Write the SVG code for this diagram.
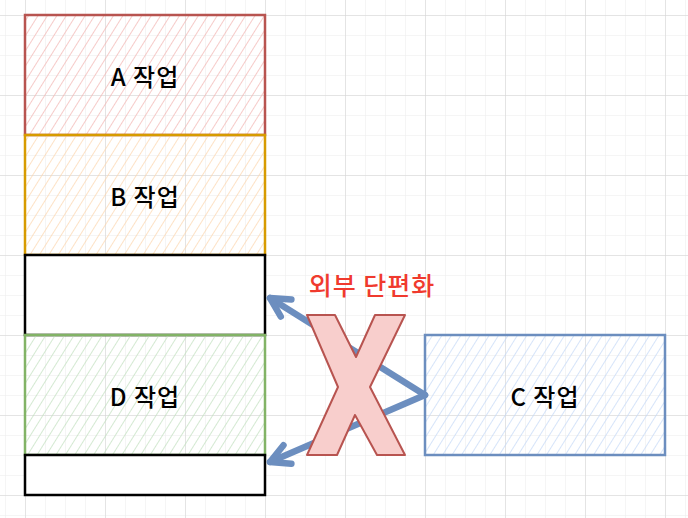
<svg xmlns="http://www.w3.org/2000/svg" width="688" height="518" viewBox="0 0 688 518">
<style>
.lbl{font-family:"Noto Sans CJK KR","Noto Sans",sans-serif;font-size:24px;font-weight:500;fill:#000;text-anchor:middle;letter-spacing:1px}
.box{stroke-width:2.5}
.conn{stroke:#6c8ebf;stroke-width:6.5;fill:none;stroke-linecap:round}
</style>
<defs>
<pattern id="gridMinor" patternUnits="userSpaceOnUse" x="5" y="15" width="20" height="20">
<path d="M0,0 H20 M0,0 V20" stroke="#ebebeb" stroke-width="1" fill="none"/>
</pattern>
<pattern id="gridMajor" patternUnits="userSpaceOnUse" x="25" y="15" width="80" height="80">
<path d="M0,0 H80 M0,0 V80" stroke="#d3d3d3" stroke-width="1" fill="none"/>
</pattern>
<pattern id="hRed" patternUnits="userSpaceOnUse" width="8" height="8" patternTransform="rotate(32)">
<line x1="0" y1="0" x2="0" y2="8" stroke="#f2b5b2" stroke-width="1.4"/>
</pattern>
<pattern id="hOrange" patternUnits="userSpaceOnUse" width="8" height="8" patternTransform="rotate(32)">
<line x1="0" y1="0" x2="0" y2="8" stroke="#fcd5ad" stroke-width="1.4"/>
</pattern>
<pattern id="hGreen" patternUnits="userSpaceOnUse" width="8" height="8" patternTransform="rotate(32)">
<line x1="0" y1="0" x2="0" y2="8" stroke="#c2dfbf" stroke-width="1.4"/>
</pattern>
<pattern id="hBlue" patternUnits="userSpaceOnUse" width="8" height="8" patternTransform="rotate(32)">
<line x1="0" y1="0" x2="0" y2="8" stroke="#c4d9f7" stroke-width="1.4"/>
</pattern>
<marker id="arr" markerUnits="userSpaceOnUse" viewBox="-26 -16 30 32" refX="0" refY="0" markerWidth="30" markerHeight="32" orient="auto">
<path d="M-19,-10 L0,0 L-19,10" fill="none" stroke="#6c8ebf" stroke-width="6.5" stroke-linecap="round" stroke-linejoin="round"/>
</marker>
</defs>
<rect width="688" height="518" fill="#fff"/>
<rect width="688" height="518" fill="url(#gridMinor)"/>
<rect width="688" height="518" fill="url(#gridMajor)"/>

<g id="nodeA">
<rect class="box" x="25" y="15" width="240" height="120" fill="url(#hRed)" stroke="#b85450"/>
<text class="lbl" x="145" y="86">A 작업</text>
</g>
<g id="nodeB">
<rect class="box" x="25" y="135" width="240" height="120" fill="url(#hOrange)" stroke="#d79b00"/>
<text class="lbl" x="145" y="206">B 작업</text>
</g>
<g id="free1">
<rect class="box" x="25" y="255" width="240" height="80" fill="#fff" stroke="#000"/>
</g>
<g id="nodeD">
<rect class="box" x="25" y="335" width="240" height="120" fill="url(#hGreen)" stroke="#82b366"/>
<text class="lbl" x="145" y="406">D 작업</text>
</g>
<g id="free2">
<rect class="box" x="25" y="455" width="240" height="40" fill="#fff" stroke="#000"/>
</g>
<g id="nodeC">
<rect class="box" x="425" y="335" width="240" height="120" fill="url(#hBlue)" stroke="#6c8ebf"/>
<text class="lbl" x="545" y="406">C 작업</text>
</g>

<g id="connectors">
<line class="conn" x1="425" y1="395" x2="270" y2="298" marker-end="url(#arr)"/>
<line class="conn" x1="425" y1="395" x2="270" y2="462" marker-end="url(#arr)"/>
</g>

<g id="xmark">
<polygon points="307,315 335,315 356,357 375,315 405,315 370,387 405,455 377,455 355,415 337,455 307,455 338,387" fill="#f8cecc" stroke="#b85450" stroke-width="2" stroke-linejoin="round"/>
</g>
<g id="label">
<text x="372" y="295" font-family="Noto Sans CJK KR,sans-serif" font-size="25" font-weight="500" letter-spacing="1" fill="#f03a2e" text-anchor="middle">외부 단편화</text>
</g>
</svg>
